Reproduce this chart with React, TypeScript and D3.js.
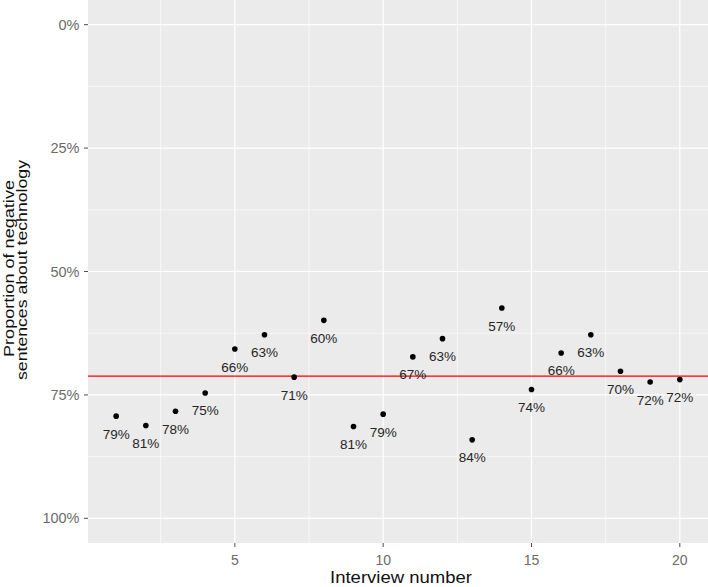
import React from "react";
import * as d3 from "d3";

const interviews = [1,2,3,4,5,6,7,8,9,10,11,12,13,14,15,16,17,18,19,20];
const proportions = [0.793,0.812,0.783,0.746,0.657,0.628,0.714,0.599,0.814,0.789,0.673,0.636,0.841,0.574,0.739,0.665,0.628,0.702,0.724,0.719];
const labels = ["79%","81%","78%","75%","66%","63%","71%","60%","81%","79%","67%","63%","84%","57%","74%","66%","63%","70%","72%","72%"];
const meanValue = 0.712;
const yTicks = [0, 0.25, 0.5, 0.75, 1];
const yMinor = [0.125, 0.375, 0.625, 0.875];
const xTicks = [5, 10, 15, 20];
const xMinor = [2.5, 7.5, 12.5, 17.5];

const W = 708, H = 587;
const panel = { left: 88, right: 708, top: 0, bottom: 543 };

export default function App() {
  const x = d3.scaleLinear().domain([0.05, 20.95]).range([panel.left, panel.right]);
  const y = d3.scaleLinear().domain([-0.05, 1.05]).range([panel.top, panel.bottom]);
  const pct = d3.format(".0%");
  const font = "Liberation Sans, Arial, sans-serif";
  return (
    <svg width={W} height={H} style={{ position: "absolute", left: 0, top: 0 }} fontFamily={font}>
      <rect x={panel.left} y={panel.top} width={panel.right - panel.left} height={panel.bottom - panel.top} fill="#EBEBEB" />
      {yMinor.map((v) => (
        <line key={"ym" + v} x1={panel.left} x2={panel.right} y1={y(v)} y2={y(v)} stroke="#fff" strokeWidth={0.6} />
      ))}
      {xMinor.map((v) => (
        <line key={"xm" + v} x1={x(v)} x2={x(v)} y1={panel.top} y2={panel.bottom} stroke="#fff" strokeWidth={0.6} />
      ))}
      {yTicks.map((v) => (
        <line key={"yM" + v} x1={panel.left} x2={panel.right} y1={y(v)} y2={y(v)} stroke="#fff" strokeWidth={1.2} />
      ))}
      {xTicks.map((v) => (
        <line key={"xM" + v} x1={x(v)} x2={x(v)} y1={panel.top} y2={panel.bottom} stroke="#fff" strokeWidth={1.2} />
      ))}
      <line x1={panel.left} x2={panel.right} y1={y(meanValue)} y2={y(meanValue)} stroke="#FF0000" strokeWidth={1.3} />
      {interviews.map((d, i) => (
        <circle key={"p" + d} cx={x(d)} cy={y(proportions[i])} r={2.8} fill="#000" />
      ))}
      {interviews.map((d, i) => (
        <text key={"l" + d} x={x(d)} y={y(proportions[i]) + 22.5} textAnchor="middle" fontSize={13.5} fill="#262626">
          {labels[i]}
        </text>
      ))}
      {yTicks.map((v) => (
        <g key={"yt" + v}>
          <line x1={panel.left - 4} x2={panel.left} y1={y(v)} y2={y(v)} stroke="#4D4D4D" strokeWidth={1} />
          <text x={panel.left - 8.5} y={y(v) + 5} textAnchor="end" fontSize={14.5} fill="#6b6b6b">
            {pct(v)}
          </text>
        </g>
      ))}
      {xTicks.map((v) => (
        <g key={"xt" + v}>
          <line x1={x(v)} x2={x(v)} y1={panel.bottom} y2={panel.bottom + 4} stroke="#4D4D4D" strokeWidth={1} />
          <text x={x(v)} y={565} textAnchor="middle" fontSize={14} fill="#6b6b6b">
            {v}
          </text>
        </g>
      ))}
      <text x={401} y={583} textAnchor="middle" fontSize={17} fill="#111" textLength={142} lengthAdjust="spacingAndGlyphs">
        Interview number
      </text>
      <text transform={`translate(13.5,268.5) rotate(-90)`} textAnchor="middle" fontSize={14.5} fill="#111" textLength={177} lengthAdjust="spacingAndGlyphs">
        Proportion of negative
      </text>
      <text transform={`translate(26.5,270) rotate(-90)`} textAnchor="middle" fontSize={14.5} fill="#111" textLength={220} lengthAdjust="spacingAndGlyphs">
        sentences about technology
      </text>
    </svg>
  );
}
